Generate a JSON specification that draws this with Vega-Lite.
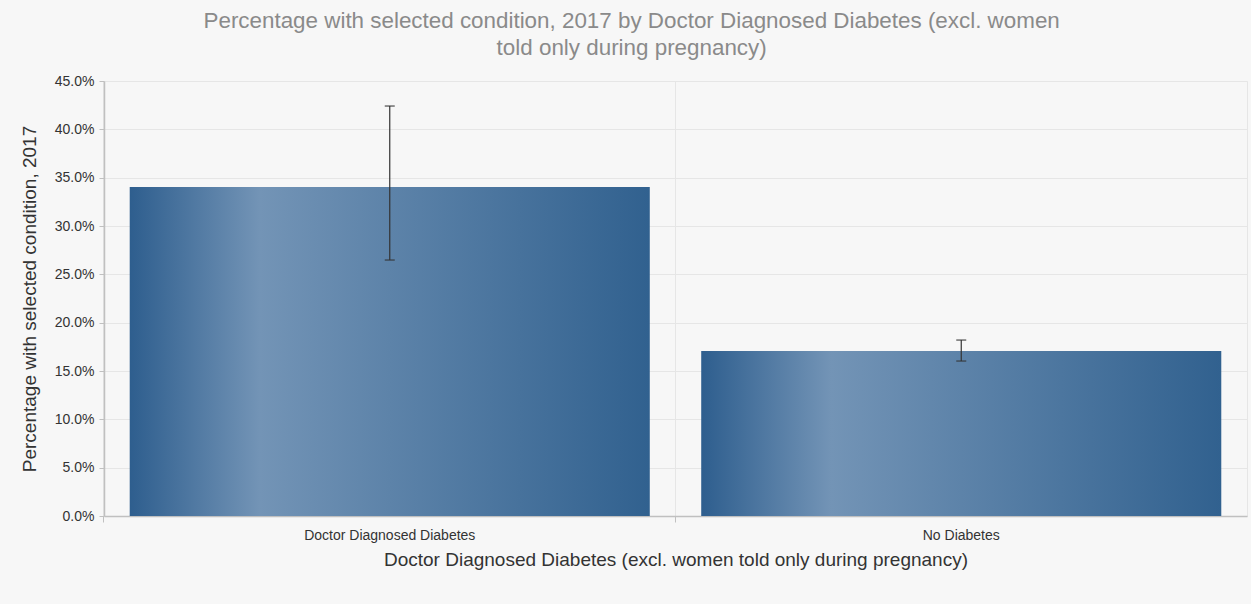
{
  "$schema": "https://vega.github.io/schema/vega-lite/v6.json",
  "autosize": {"type": "none"},
  "width": 1143,
  "height": 435,
  "padding": {"left": 104, "top": 81, "right": 4, "bottom": 88},
  "background": "#f7f7f7",
  "title": {
    "text": ["Percentage with selected condition, 2017 by Doctor Diagnosed Diabetes (excl. women", "told only during pregnancy)"],
    "font": "Liberation Sans",
    "fontSize": 22.4,
    "fontWeight": "normal",
    "color": "#8a8a8a",
    "lineHeight": 27,
    "anchor": "middle",
    "frame": "bounds",
    "dx": -2,
    "offset": 15
  },
  "config": {
    "view": {"stroke": "#e6e6e6", "strokeWidth": 1},
    "font": "Liberation Sans"
  },
  "data": {
    "values": [
      {"category": "Doctor Diagnosed Diabetes", "value": 0.3403, "lower": 0.2648, "upper": 0.4241},
      {"category": "No Diabetes", "value": 0.1707, "lower": 0.1603, "upper": 0.1820}
    ]
  },
  "encoding": {
    "x": {
      "field": "category",
      "type": "nominal",
      "sort": null,
      "scale": {"paddingInner": 0.09, "paddingOuter": 0.045},
      "axis": {
        "title": "Doctor Diagnosed Diabetes (excl. women told only during pregnancy)",
        "titleFont": "Liberation Sans",
        "titleFontSize": 19,
        "titleFontWeight": "normal",
        "titleColor": "#333333",
        "titlePadding": 8,
        "labelAngle": 0,
        "labelFont": "Liberation Sans",
        "labelFontSize": 14,
        "labelColor": "#333333",
        "labelPadding": 6,
        "bandPosition": -0.05,
        "grid": true,
        "gridColor": "#e6e6e6",
        "tickColor": "#c0c0c0",
        "tickSize": 6,
        "domainColor": "#c0c0c0",
        "domainWidth": 1.5
      }
    }
  },
  "layer": [
    {
      "mark": {
        "type": "bar",
        "color": {
          "gradient": "linear",
          "x1": 0, "x2": 1, "y1": 0, "y2": 0,
          "stops": [
            {"offset": 0, "color": "#2e5e8e"},
            {"offset": 0.25, "color": "#7394b6"},
            {"offset": 1, "color": "#31618f"}
          ]
        }
      },
      "encoding": {
        "y": {
          "field": "value",
          "type": "quantitative",
          "scale": {"domain": [0, 0.45], "nice": false},
          "axis": {
            "title": "Percentage with selected condition, 2017",
            "titleFont": "Liberation Sans",
            "titleFontSize": 19,
            "titleFontWeight": "normal",
            "titleColor": "#333333",
            "titlePadding": 15,
            "format": ".1%",
            "values": [0, 0.05, 0.1, 0.15, 0.2, 0.25, 0.3, 0.35, 0.4, 0.45],
            "labelFont": "Liberation Sans",
            "labelFontSize": 14,
            "labelColor": "#333333",
            "labelPadding": 5,
            "gridColor": "#e6e6e6",
            "tickColor": "#c0c0c0",
            "tickSize": 5,
            "domainColor": "#c0c0c0",
            "domainWidth": 1.5
          }
        }
      }
    },
    {
      "mark": {"type": "rule", "color": "#333333", "strokeWidth": 1.2},
      "encoding": {
        "y": {"field": "lower", "type": "quantitative"},
        "y2": {"field": "upper"}
      }
    },
    {
      "mark": {"type": "tick", "color": "#333333", "size": 10, "thickness": 1.5},
      "encoding": {"y": {"field": "lower", "type": "quantitative"}}
    },
    {
      "mark": {"type": "tick", "color": "#333333", "size": 10, "thickness": 1.5},
      "encoding": {"y": {"field": "upper", "type": "quantitative"}}
    }
  ]
}
